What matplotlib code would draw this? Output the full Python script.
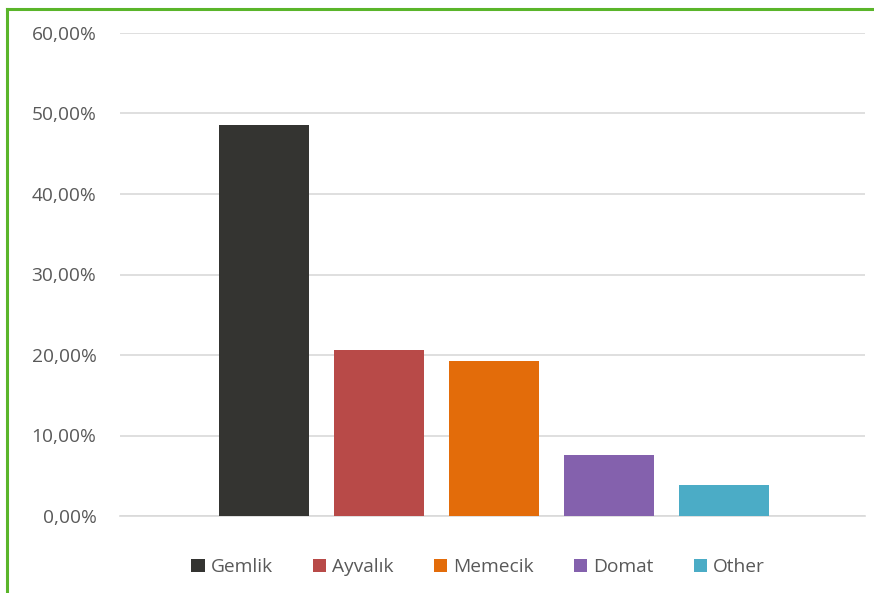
import matplotlib
matplotlib.use("Agg")
import matplotlib.pyplot as plt
from matplotlib.lines import Line2D
from matplotlib.ticker import FuncFormatter

categories = ["Gemlik", "Ayvalık", "Memecik", "Domat", "Other"]
values = [48.6, 20.6, 19.2, 7.6, 3.8]
colors = ["#343431", "#b84a48", "#e36c0a", "#8461ad", "#4bacc6"]
yticks = [0, 10, 20, 30, 40, 50, 60]

plt.rcParams["font.family"] = ["Open Sans", "DejaVu Sans"]

W, H = 874, 593
fig = plt.figure(figsize=(W / 100, H / 100), dpi=100)
ax = fig.add_axes([120 / W, 1 - 516 / H, (865 - 120) / W, (516 - 33) / H])

for i, (c, v, col) in enumerate(zip(categories, values, colors)):
    ax.bar(i, v, width=0.78, color=col, label=c, zorder=3)

ax.set_xlim(-1.252, 5.226)
ax.set_ylim(0, 60)
ax.set_yticks(yticks)
ax.yaxis.set_major_formatter(FuncFormatter(lambda v, p: f"{v:.2f}".replace(".", ",") + "%"))
ax.set_xticks([])
ax.grid(axis="y", color="#d9d9d9", linewidth=1.2, zorder=0)
for s in ["top", "right", "left"]:
    ax.spines[s].set_visible(False)
ax.spines["bottom"].set_color("#d9d9d9")
ax.spines["bottom"].set_linewidth(1.2)
ax.tick_params(axis="y", length=0, pad=17, labelsize=13.8, labelcolor="#595959")

leg = fig.legend(loc="center", bbox_to_anchor=(478 / W, 1 - 567 / H), ncol=5,
                 frameon=False, fontsize=13.8, handlelength=0.7, handleheight=0.7,
                 handletextpad=0.3, columnspacing=2.1)
for t in leg.get_texts():
    t.set_color("#595959")

# green border (top and left)
fig.add_artist(Line2D([7 / W, 7 / W], [0, 1 - 9 / H], color="#5ab52a", linewidth=2.2,
                      transform=fig.transFigure))
fig.add_artist(Line2D([7 / W, 1], [1 - 9 / H, 1 - 9 / H], color="#5ab52a", linewidth=2.2,
                      transform=fig.transFigure))

fig.savefig("out.png", dpi=100)
